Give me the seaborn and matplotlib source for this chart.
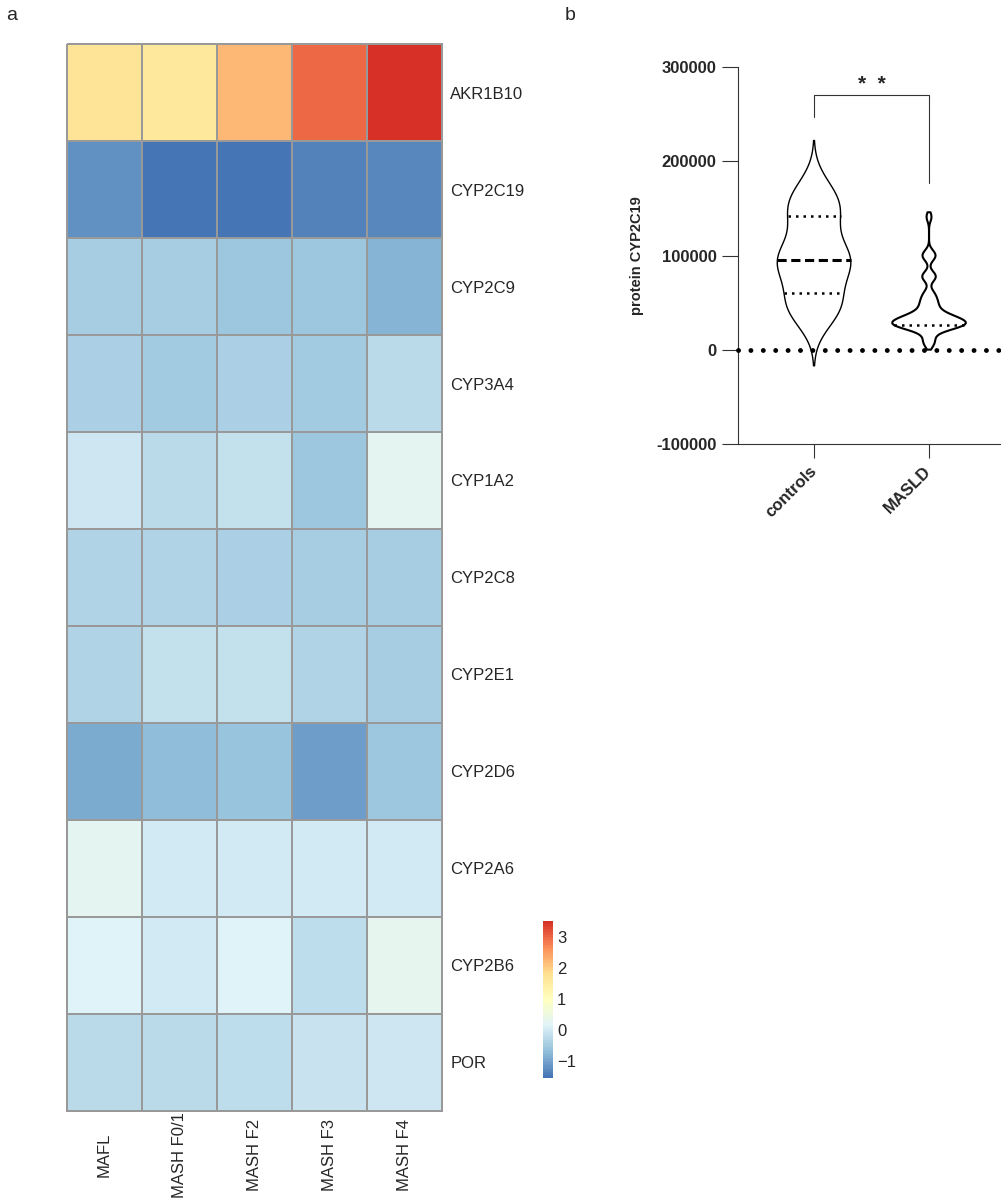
import numpy as np
import pandas as pd
import matplotlib
matplotlib.use("Agg")
import matplotlib.pyplot as plt
import seaborn as sns
from matplotlib.colors import LinearSegmentedColormap

sns.set_style("ticks")
plt.rcParams['font.family'] = ['Liberation Sans', 'DejaVu Sans']

# ---- panel a: scaled expression per fibrosis stage ----
genes = ["AKR1B10", "CYP2C19", "CYP2C9", "CYP3A4", "CYP1A2", "CYP2C8",
         "CYP2E1", "CYP2D6", "CYP2A6", "CYP2B6", "POR"]
stages = ["MAFL", "MASH F0/1", "MASH F2", "MASH F3", "MASH F4"]

akr1b10 = [1.70, 1.60, 2.20, 2.95, 3.50]
cyp2c19 = [-1.20, -1.55, -1.50, -1.35, -1.30]
cyp2c9 = [-0.48, -0.48, -0.55, -0.55, -0.80]
cyp3a4 = [-0.40, -0.50, -0.40, -0.50, -0.25]
cyp1a2 = [-0.08, -0.25, -0.15, -0.55, 0.25]
cyp2c8 = [-0.35, -0.35, -0.42, -0.48, -0.48]
cyp2e1 = [-0.35, -0.18, -0.18, -0.35, -0.45]
cyp2d6 = [-0.90, -0.72, -0.62, -1.05, -0.55]
cyp2a6 = [0.25, 0.00, 0.00, 0.00, 0.00]
cyp2b6 = [0.12, 0.00, 0.12, -0.20, 0.28]
por = [-0.25, -0.25, -0.20, -0.12, -0.05]

heat = pd.DataFrame([akr1b10, cyp2c19, cyp2c9, cyp3a4, cyp1a2, cyp2c8,
                     cyp2e1, cyp2d6, cyp2a6, cyp2b6, por],
                    index=genes, columns=stages)

# ---- panel b: CYP2C19 protein per group ----
groups = ["controls", "MASLD"]
controls = [30000, 40000, 45000, 48000, 52000, 60000, 80000, 86000, 90000, 92000,
            95000, 98000, 102000, 112000, 125000, 142000, 146000, 150000, 157000, 165000, 175000]
masld = [5000, 9000, 14000,
         20000, 22000, 23000, 24000, 25000, 25000, 26000, 27000, 27000, 28000, 28000,
         29000, 30000, 30000, 31000, 32000, 33000, 34000, 35000, 36000, 37000, 38000,
         41000, 44000, 47000, 50000, 53000, 57000, 61000,
         75000, 78000, 80000, 97000, 100000, 103000,
         141000]
yticks = [-100000, 0, 100000, 200000, 300000]

viol = pd.DataFrame({
    "group": ["controls"] * len(controls) + ["MASLD"] * len(masld),
    "value": controls + masld,
})

pheat_cols = ["#4575B4", "#91BFDB", "#E0F3F8", "#FFFFBF", "#FEE090", "#FC8D59", "#D73027"]
cmap = LinearSegmentedColormap.from_list("rdylbu7", pheat_cols, N=100)

fig = plt.figure(figsize=(10.01, 11.99), dpi=100)

ax_hm = fig.add_axes([0.0669, 0.0734, 0.3746, 0.8899])
ax_cb = fig.add_axes([0.5425, 0.1009, 0.0100, 0.1310])
sns.heatmap(heat, cmap=cmap, vmin=heat.values.min(), vmax=heat.values.max(),
            linewidths=1.1, linecolor="#999999", ax=ax_hm, cbar_ax=ax_cb,
            xticklabels=stages, yticklabels=genes)
ax_hm.collections[0].set_clip_on(False)
ax_hm.yaxis.tick_right()
ax_hm.tick_params(axis="y", length=0, pad=6, labelsize=12, labelrotation=0)
ax_hm.tick_params(axis="x", length=0, pad=31.7, labelsize=12, labelrotation=90)
for lbl in ax_hm.get_xticklabels():
    lbl.set_va("center")
ax_hm.set_xlabel("")
ax_hm.set_ylabel("")

cb = ax_hm.collections[0].colorbar
cb.outline.set_visible(False)
cb.set_ticks([-1, 0, 1, 2, 3])
ax_cb.tick_params(length=0, labelsize=12, pad=3)

# violins
ax_v = fig.add_axes([0.7373, 0.6297, 0.2627, 0.3144])
n0 = len(ax_v.lines)
sns.violinplot(data=viol[viol["group"] == "controls"], x="group", y="value", order=groups,
               inner="quart", fill=False, color="black", linecolor="black", linewidth=1.0,
               density_norm="width", width=0.64, bw_adjust=0.85, cut=2.3, ax=ax_v)
ctrl_lines = ax_v.lines[n0:]
n1 = len(ax_v.lines)
sns.violinplot(data=viol[viol["group"] == "MASLD"], x="group", y="value", order=groups,
               inner="quart", fill=False, color="black", linecolor="black", linewidth=1.5,
               density_norm="width", width=0.64, bw_adjust=0.35, cut=1, ax=ax_v)
masld_lines = ax_v.lines[n1:]

for i, ln in enumerate(ctrl_lines):
    if i == 1:
        ln.set_linestyle((0, (3, 1.5)))
        ln.set_linewidth(2.2)
    else:
        ln.set_linestyle((0, (1, 2)))
        ln.set_linewidth(1.8)
for i, ln in enumerate(masld_lines):
    if i == 0:
        ln.set_linestyle((0, (1, 2)))
        ln.set_linewidth(1.8)
    else:
        ln.set_visible(False)

ax_v.axhline(0, color="black", lw=3.5, ls=(0, (0.01, 2.54)), dash_capstyle="round",
             clip_on=False, zorder=4)

# significance bracket
bracket_top = 270000
drop_left, drop_right = 247000, 177000
ax_v.plot([0, 0, 1, 1], [drop_left, bracket_top, bracket_top, drop_right],
          color="#333333", lw=0.8, clip_on=False)
ax_v.text(0.5, bracket_top + 1500, "*  *", ha="center", va="bottom",
          fontsize=15, fontweight="bold")

ax_v.set_xlim(-0.661, 1.626)
ax_v.set_ylim(-100000, 300000)
ax_v.set_yticks(yticks)
ax_v.set_yticklabels([str(t) for t in yticks], fontsize=12, fontweight="bold")
ax_v.set_xticks([0, 1])
ax_v.set_xticklabels(groups, fontsize=12, fontweight="bold", rotation=45,
                     ha="right", va="center", rotation_mode="anchor")
ax_v.tick_params(axis="y", length=11.5, width=0.8, pad=4, color="#333333")
ax_v.tick_params(axis="x", length=10, width=0.8, pad=8, color="#333333")
for s in ["top", "right"]:
    ax_v.spines[s].set_visible(False)
for s in ["left", "bottom"]:
    ax_v.spines[s].set_linewidth(0.8)
    ax_v.spines[s].set_color("#333333")
ax_v.set_xlabel("")
ax_v.set_ylabel("protein CYP2C19", fontsize=10.5, fontweight="bold", labelpad=9)

fig.text(0.012, 0.987, "a", fontsize=14, ha="center", va="center")
fig.text(0.570, 0.987, "b", fontsize=14, ha="center", va="center")

fig.savefig("out.png", dpi=100)
